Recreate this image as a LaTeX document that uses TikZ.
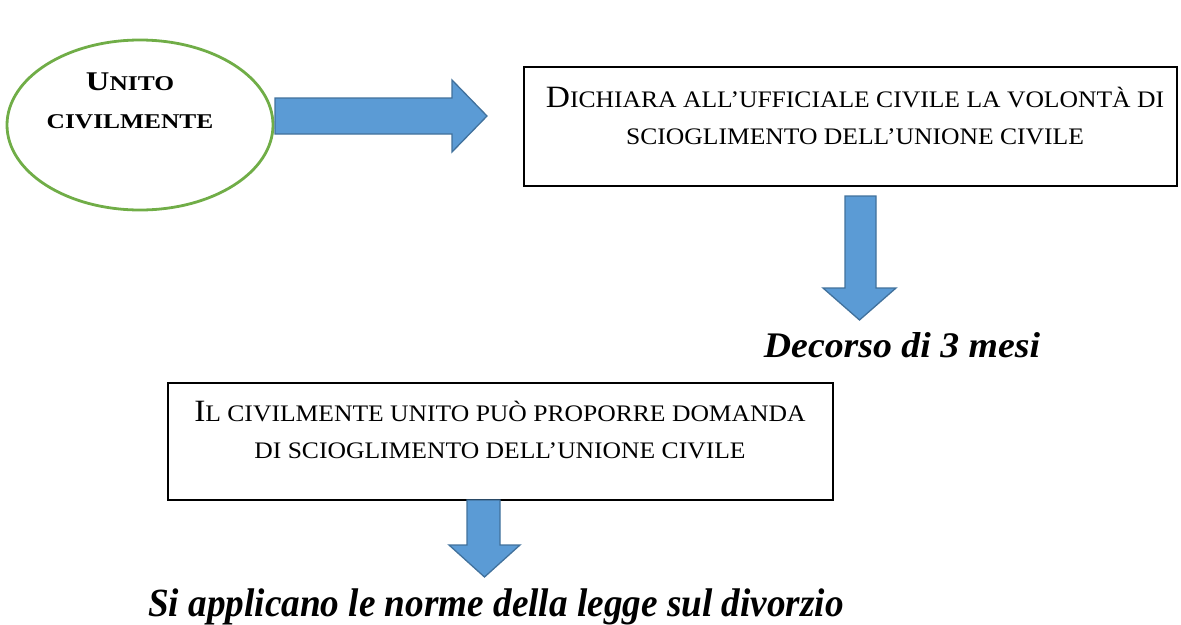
\documentclass[tikz,border=0pt]{standalone}
\usepackage{fontspec}
\usetikzlibrary{shapes.geometric}
\setmainfont{Liberation Serif}
\newfontfamily\ellfont[FakeStretch=1.21]{Liberation Serif}
\newfontfamily\boxfont[FakeStretch=1.08]{Liberation Serif}
\newfontfamily\decfont[FakeStretch=1.05]{Liberation Serif}
\newfontfamily\lawfont[FakeStretch=0.93]{Liberation Serif}
\definecolor{arrowfill}{HTML}{5B9BD5}
\definecolor{arrowline}{HTML}{41719C}
\definecolor{ellgreen}{HTML}{70AD47}
\newcommand\smc[1]{{\fontsize{21}{37}\selectfont #1}}
\newcommand\smb[1]{{\fontsize{23.7}{37}\selectfont #1}}
\begin{document}
\begin{tikzpicture}[x=1pt,y=-1pt,
  stepbox/.style={draw=black, line width=1.3pt, inner sep=0pt},
  blockarrow/.style={fill=arrowfill, draw=arrowline, line width=1.3pt, line join=miter},
  boxtext/.style={font=\boxfont\fontsize{31}{37}\selectfont, align=center, anchor=base, inner sep=0pt},
  bigtext/.style={anchor=base, inner sep=0pt}]
\useasboundingbox (0,0) rectangle (1181,624);
% start ellipse
\node[ellipse, draw=ellgreen, line width=2.8pt, minimum width=266pt, minimum height=170pt, inner sep=0pt] (start) at (140,125) {};
\node[font=\ellfont\bfseries\fontsize{27}{38}\selectfont, align=center, anchor=base, inner sep=0pt] (starttext) at (130,128) {U\smc{NITO}\\\smc{CIVILMENTE}};
% boxes
\node[stepbox, minimum width=653pt, minimum height=119pt] (decl) at (850.5,126.5) {};
\node[boxtext] (decltext) at (855,144) {D\smb{ICHIARA ALL’UFFICIALE CIVILE LA VOLONTÀ DI}\\\smb{SCIOGLIMENTO DELL’UNIONE CIVILE}};
\node[stepbox, minimum width=665pt, minimum height=117pt] (claim) at (500.5,441.5) {};
\node[boxtext] (claimtext) at (500,458) {I\smb{L CIVILMENTE UNITO PUÒ PROPORRE DOMANDA}\\\smb{DI SCIOGLIMENTO DELL’UNIONE CIVILE}};
% block arrows
\draw[blockarrow] (275,98) -- (452,98) -- (452,80) -- (487,116) -- (452,152) -- (452,134) -- (275,134) -- cycle;
\draw[blockarrow] (845,196) -- (876,196) -- (876,288) -- (896,288) -- (859.5,320) -- (823,288) -- (845,288) -- cycle;
\draw[blockarrow] (467,500) -- (500,500) -- (500,545) -- (520,545) -- (484.5,577) -- (449,545) -- (467,545) -- cycle;
% labels
\node[bigtext, font=\decfont\bfseries\itshape\fontsize{36}{40}\selectfont] (wait) at (902,357) {Decorso di 3 mesi};
\node[bigtext, font=\lawfont\bfseries\itshape\fontsize{40}{42}\selectfont] (law) at (496,616) {Si applicano le norme della legge sul divorzio};
\end{tikzpicture}
\end{document}
